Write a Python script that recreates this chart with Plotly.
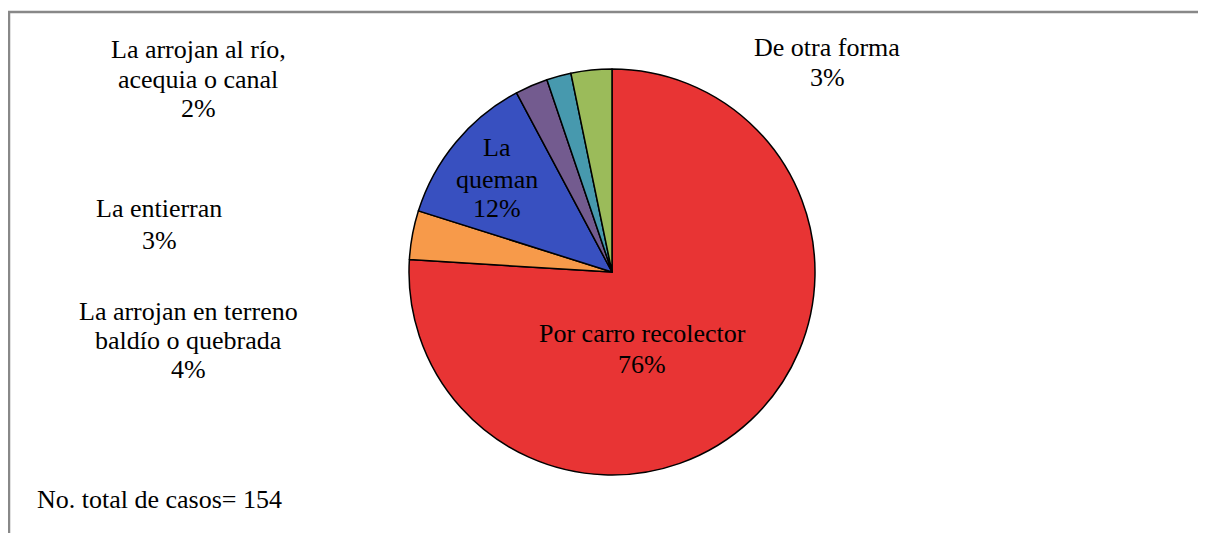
import plotly.graph_objects as go

categories = ["Por carro recolector", "La arrojan en terreno baldío o quebrada", "La queman",
              "La entierran", "La arrojan al río, acequia o canal", "De otra forma"]
counts = [117, 6, 19, 4, 3, 5]
pct_labels = ["76%", "4%", "12%", "3%", "2%", "3%"]
colors = ["#E83434", "#F79A4A", "#3850C0", "#735B8F", "#4799AE", "#9BBB5A"]

# page body margin offset of 8px
OFF = 8
W, H = 1206 - OFF, 533 - OFF
cx, cy, r = 612 - OFF, 272 - OFF, 203

fig = go.Figure(go.Pie(
    labels=categories, values=counts, sort=False, direction="clockwise", rotation=0,
    marker=dict(colors=colors, line=dict(color="black", width=1.5)),
    textinfo="none", hoverinfo="label+percent", showlegend=False,
    domain=dict(x=[(cx - r) / W, (cx + r) / W], y=[(H - cy - r) / H, (H - cy + r) / H]),
))

font = dict(family="Liberation Serif, Times New Roman, serif", size=26, color="black")

def ann(lines, px, baselines, xanchor="center"):
    for line, b in zip(lines, baselines):
        py = b - 9 - OFF
        fig.add_annotation(text=line, x=(px - OFF) / W, y=1 - py / H, xref="paper", yref="paper",
                           showarrow=False, xanchor=xanchor, yanchor="middle", font=font)

ann(["Por carro recolector", pct_labels[0]], 642, [342, 373])
ann(["La", "queman", pct_labels[2]], 497, [157, 188, 218])
ann(["La arrojan en terreno", "baldío o quebrada", pct_labels[1]], 188, [320, 349, 378])
ann(["La entierran", pct_labels[3]], 159, [218, 249])
ann(["La arrojan al río,", "acequia o canal", pct_labels[4]], 198, [58, 88, 118])
ann(["De otra forma", pct_labels[5]], 827, [57, 87])
ann(["No. total de casos= 154"], 35, [508], xanchor="left")

fig.add_shape(type="rect", xref="paper", yref="paper", x0=1 / W, x1=1.05, y0=-0.05, y1=1 - 4 / H,
              line=dict(color="#888888", width=2.5))

fig.update_layout(width=W, height=H, margin=dict(l=0, r=0, t=0, b=0),
                  paper_bgcolor="white", plot_bgcolor="white")
fig.write_html("out.html")
